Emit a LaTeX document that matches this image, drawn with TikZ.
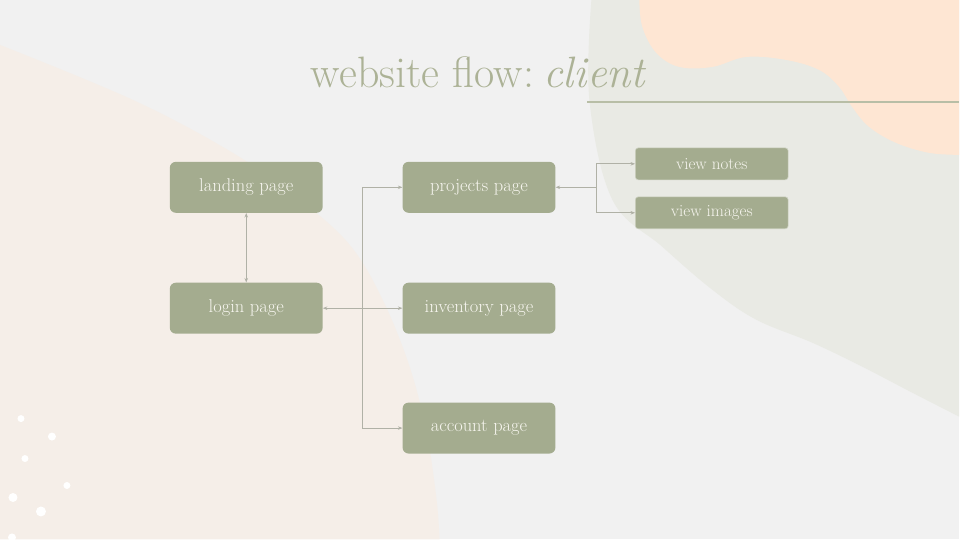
\documentclass[tikz,border=0pt]{standalone}
\usepackage{fontspec}
\usepackage{xcolor}
\usetikzlibrary{positioning, arrows.meta}

\definecolor{bgcol}{HTML}{F1F1F1}
\definecolor{sagebg}{HTML}{E9EAE4}
\definecolor{peachbg}{HTML}{FEE6D3}
\definecolor{creambg}{HTML}{F5EEE8}
\definecolor{boxfill}{HTML}{A4AC8F}
\definecolor{boxtext}{HTML}{F6F5EE}
\definecolor{linkcol}{HTML}{B0B1A6}
\definecolor{titlecol}{HTML}{ACB296}

\tikzset{
    page/.style={rectangle, rounded corners=6pt, fill=boxfill, text=boxtext,
        minimum width=153pt, minimum height=51pt, inner sep=0pt,
        font=\fontsize{18.5}{22}\selectfont},
    subpage/.style={page, rounded corners=3pt, minimum height=32pt,
        draw=white!45!boxfill, line width=0.6pt,
        font=\fontsize{17}{20}\selectfont},
    link/.style={draw=linkcol, line width=0.9pt,
        >={Stealth[length=4.5pt, width=3.5pt]}},
}

\begin{document}
\begin{tikzpicture}[x=1pt, y=-1pt]
        % background and blobs
        \fill[bgcol] (0,0) rectangle (960,540);
        \fill[creambg] plot[smooth, tension=0.6] coordinates {(0,45) (133,100) (233,153) (300,200) (350,245) (383,300) (410,367) (427,433) (437,500) (440,540)} -- (0,540) -- cycle;
        \fill[sagebg] plot[smooth, tension=0.6] coordinates {(592,0) (590,100) (613,200) (663,247) (713,290) (757,320) (813,343) (863,367) (913,393) (960,417)} -- (960,0) -- cycle;
        \fill[peachbg] plot[smooth, tension=0.6] coordinates {(640,0) (643,27) (657,53) (680,67) (713,67) (747,57) (787,60) (820,70) (840,87) (853,107) (870,127) (897,143) (930,153) (960,155)} -- (960,0) -- cycle;
        \foreach \px/\py/\pr in {21/419/3.5, 52/437/4, 25/459/3.5, 67/486/3.5, 13/498/4.5, 41/512/5, 12/538/4}
            \fill[white] (\px,\py) circle[radius=\pr];

        % title
        \node[anchor=base, text=titlecol, font=\fontsize{44}{50}\selectfont] (title) at (479.5,88) {website flow:\hspace{0.2em}\textit{client}};
        \coordinate (ruleL) at (588,102);
        \coordinate (ruleR) at (960,102);
        \draw[draw=titlecol!85, line width=2pt] (ruleL) -- (ruleR);

        % pages
        \node[page] (landing) at (246.5,187.5) {landing page};
        \node[page] (login) at (246.5,308.5) {login page};
        \node[page] (projects) at (479.5,187.5) {projects page};
        \node[page] (inventory) at (479.5,308.5) {inventory page};
        \node[page] (account) at (479.5,428.5) {account page};
        \node[subpage] (notes) at (712.5,164) {view notes};
        \node[subpage] (images) at (712.5,213) {view images};

        \coordinate (split) at (363,308.5);
        \coordinate (psplit) at (597,187.5);

        \draw[link, <->] (landing) to (login);
        \draw[link, <->] (login.east) -- (split) |- (projects.west);
        \draw[link, ->] (split) -- (inventory.west);
        \draw[link, ->] (split) |- (account.west);
        \draw[link, <->] (projects.east) -- (psplit) |- (notes.west);
        \draw[link, ->] (psplit) |- (images.west);
    \end{tikzpicture}
\end{document}
